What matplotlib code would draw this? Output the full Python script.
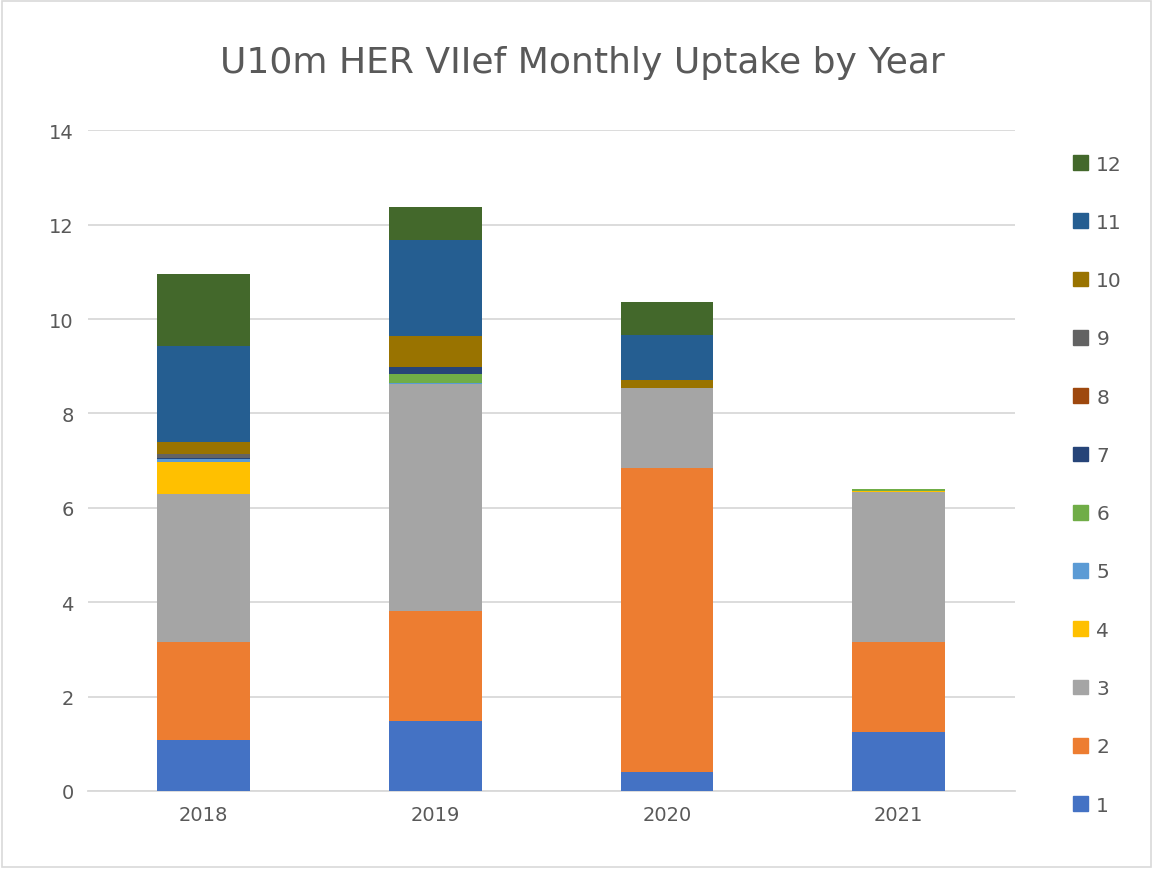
import matplotlib.pyplot as plt
import numpy as np
from matplotlib.patches import Patch

# monthly uptake by year, months 1..12
years = ["2018", "2019", "2020", "2021"]
months = [str(m) for m in range(1, 13)]
m1 = [1.08, 1.48, 0.40, 1.25]
m2 = [2.08, 2.33, 6.44, 1.91]
m3 = [3.13, 4.81, 1.70, 3.17]
m4 = [0.68, 0.00, 0.00, 0.03]
m5 = [0.06, 0.02, 0.00, 0.00]
m6 = [0.00, 0.20, 0.00, 0.03]
m7 = [0.02, 0.15, 0.00, 0.00]
m8 = [0.00, 0.00, 0.00, 0.00]
m9 = [0.10, 0.00, 0.00, 0.00]
m10 = [0.25, 0.66, 0.17, 0.00]
m11 = [2.02, 2.03, 0.95, 0.00]
m12 = [1.54, 0.70, 0.70, 0.00]
series = [m1, m2, m3, m4, m5, m6, m7, m8, m9, m10, m11, m12]
colors = ["#4472C4", "#ED7D31", "#A5A5A5", "#FFC000", "#5B9BD5", "#70AD47",
          "#264478", "#9E480E", "#636363", "#997300", "#255E91", "#43682B"]

txt = "#595959"
fig = plt.figure(figsize=(11.53, 8.7), dpi=100)
ax = fig.add_axes([0.076, 0.0897, 0.804, 0.7593])

x = np.arange(len(years))
bottom = np.zeros(len(years))
for vals, c in zip(series, colors):
    ax.bar(x, vals, 0.4, bottom=bottom, color=c, zorder=3)
    bottom += np.array(vals)

ax.set_ylim(0, 14)
ax.set_xlim(-0.5, 3.5)
ax.set_yticks(range(0, 15, 2))
ax.set_xticks(x)
ax.set_xticklabels(years)
ax.grid(axis="y", color="#D9D9D9", linewidth=1.3, zorder=0)
for s in ["top", "right", "left"]:
    ax.spines[s].set_visible(False)
ax.spines["bottom"].set_color("#D9D9D9")
ax.spines["bottom"].set_linewidth(1.3)
ax.tick_params(length=0, labelsize=14, colors=txt, pad=10)

fig.suptitle("U10m HER VIIef Monthly Uptake by Year", fontsize=26, color=txt,
             y=0.947, x=0.505)

handles = [Patch(color=c, label=m) for c, m in zip(colors, months)][::-1]
fig.legend(handles=handles, loc="upper left", bbox_to_anchor=(0.915, 0.842),
           frameon=False, fontsize=14.5, labelcolor=txt, handlelength=0.75,
           handleheight=0.75, handletextpad=0.4, labelspacing=1.95)

fig.patches.append(plt.Rectangle((0.002, 0.002), 0.996, 0.996, transform=fig.transFigure,
                                 fill=False, edgecolor="#D9D9D9", linewidth=1.2))
fig.savefig("out.png")
